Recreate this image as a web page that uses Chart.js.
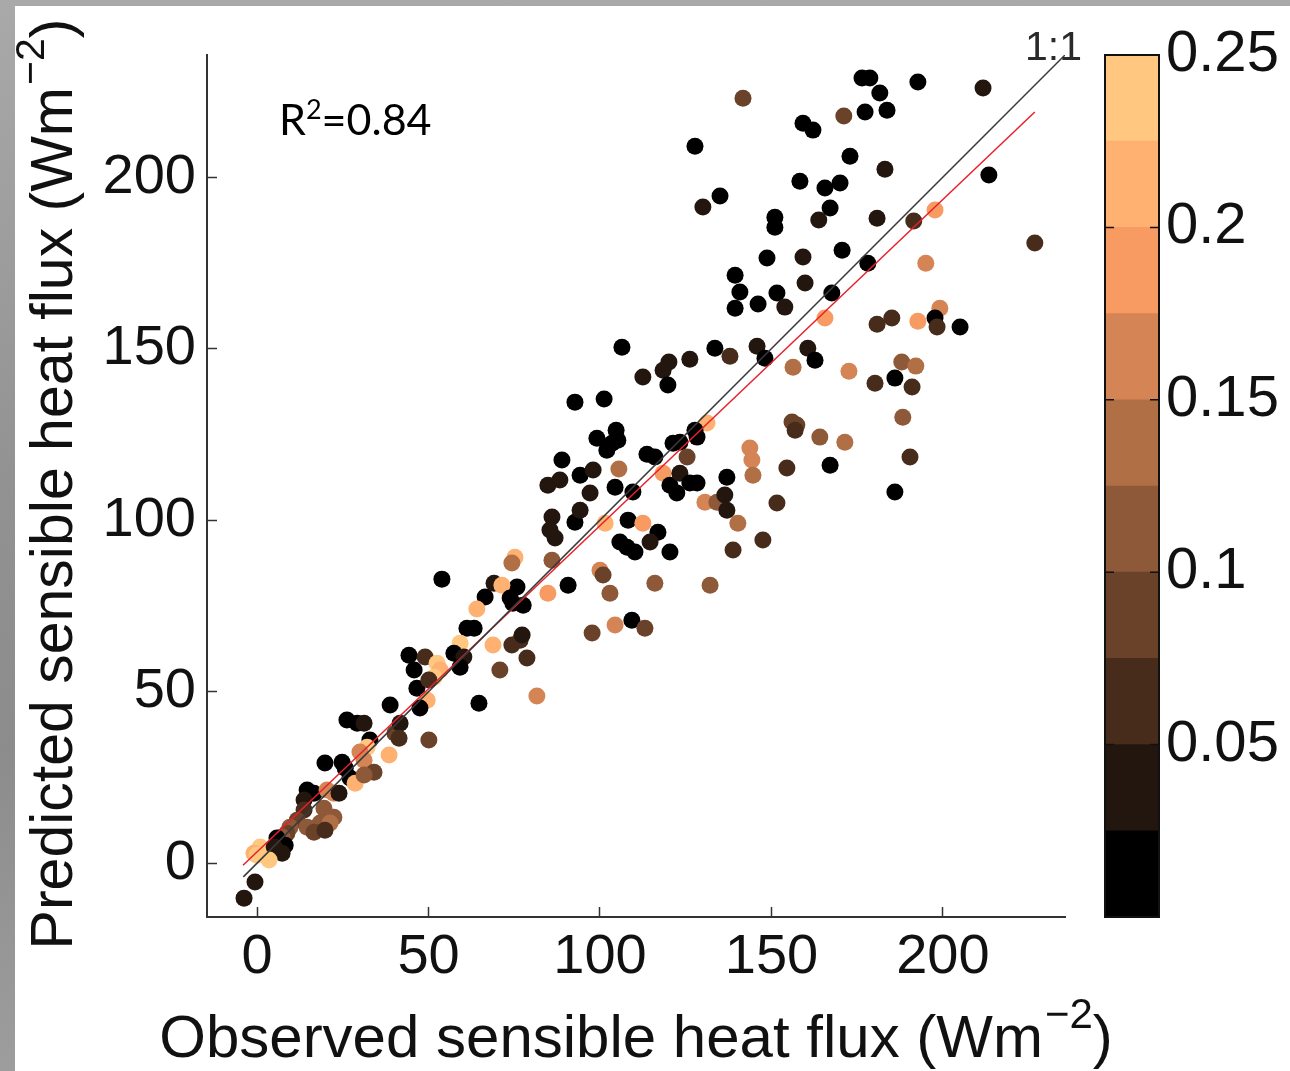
<!DOCTYPE html>
<html>
<head>
<meta charset="utf-8">
<script src="https://cdn.jsdelivr.net/npm/chart.js@4.4.1/dist/chart.umd.min.js"></script>
<style>
  html, body { margin: 0; padding: 0; }
  body {
    width: 1290px; height: 1071px; position: relative; overflow: hidden;
    background: linear-gradient(180deg, #a9a9a9 0%, #929292 45%, #8c8c8c 70%, #9d9d9d 100%);
  }
  #panel { position: absolute; left: 15px; top: 6px; right: 0; bottom: 0; background: #fff; }
  #scatter { position: absolute; left: 0; top: 0; }
  #cbar { position: absolute; left: 1095px; top: 0; }
</style>
</head>
<body>
<div id="panel"></div>
<canvas id="scatter" width="1290" height="1071"></canvas>
<canvas id="cbar" width="195" height="1071"></canvas>
<script>
// observed (x), predicted (y) sensible heat flux in W m-2, and the colour variable
const observed = [
  141.7, 176.4, 178.7, 192.7, 211.7, 181.6, 171.1, 177.3, 183.7, 159.2,
  162.1, 127.7, 172.9, 183.1, 213.4, 158.3, 165.6, 170.0, 135.0, 130.0,
  167.1, 151.0, 151.0, 163.8, 180.8, 191.5, 197.7, 226.8, 170.6, 148.7,
  159.2, 178.1, 195.0, 139.4, 140.8, 159.8, 167.6, 151.6, 153.9, 139.4,
  146.1, 165.6, 180.8, 185.1, 192.7, 199.1, 197.7, 198.3, 205.0, 133.5,
  126.2, 137.9, 145.8, 148.1, 160.6, 162.7, 156.3, 172.6, 120.1, 118.4,
  112.5, 119.8, 188.0, 192.1, 180.2, 186.0, 191.0, 156.0, 157.4, 156.9,
  188.3, 164.1, 171.4, 143.7, 144.3, 144.6, 154.5, 167.1, 190.4, 137.0,
  186.0, 151.6, 131.2, 127.7, 123.3, 106.4, 92.7, 101.2, 99.1, 104.7,
  105.2, 102.0, 103.5, 88.9, 84.8, 88.3, 94.2, 98.0, 105.5, 104.4,
  109.6, 97.1, 113.7, 116.0, 121.3, 128.3, 125.4, 118.4, 120.4, 123.3,
  122.4, 126.2, 128.3, 130.6, 134.1, 136.4, 137.0, 86.0, 85.4, 86.9,
  92.7, 94.2, 101.5, 108.2, 112.5, 116.9, 114.6, 105.8, 107.9, 110.2,
  120.4, 140.2, 147.5, 138.8, 75.2, 74.3, 86.0, 100.0, 100.9, 90.7,
  84.8, 102.9, 116.0, 132.1, 69.1, 75.8, 71.4, 66.5, 74.6, 77.6,
  97.7, 104.4, 109.3, 113.1, 68.8, 74.3, 76.7, 77.3, 78.7, 70.8,
  81.6, 73.8, 53.9, 64.1, 61.2, 63.3, 59.2, 64.7, 44.3, 45.8,
  49.0, 52.5, 53.4, 51.6, 57.4, 60.3, 59.2, 46.6, 50.1, 49.6,
  47.5, 38.8, 26.2, 29.2, 31.2, 32.9, 32.1, 40.2, 41.7, 41.4,
  38.5, 50.1, 30.0, 31.2, 34.1, 19.8, 24.8, 25.7, 27.1, 28.6,
  31.2, 14.6, 16.6, 13.7, 20.4, 22.4, 23.9, 19.5, 22.4, 18.4,
  21.3, 13.7, 11.7, 14.6, 16.6, 19.8, 9.6, 8.7, 7.3, 5.8,
  8.2, 7.3, 0.9, -0.9, 0.0, -0.6, -3.8, 5.0, 3.5
];
const predicted = [
  223.0, 228.9, 228.9, 227.7, 226.0, 224.5, 217.8, 219.0, 219.5, 215.7,
  213.7, 209.0, 206.1, 202.3, 200.6, 198.8, 196.8, 198.3, 194.5, 191.3,
  191.0, 188.3, 185.4, 187.5, 188.0, 187.2, 190.4, 180.8, 178.7, 176.4,
  176.7, 174.9, 174.9, 171.4, 166.5, 169.1, 166.2, 166.2, 162.1, 161.8,
  163.0, 158.9, 157.1, 158.9, 158.0, 161.8, 158.9, 156.3, 156.3, 150.1,
  146.9, 147.8, 150.7, 147.2, 150.1, 146.6, 144.6, 143.4, 146.1, 143.7,
  141.7, 139.4, 146.1, 144.9, 139.9, 141.4, 138.8, 128.6, 127.7, 126.2,
  130.0, 124.2, 122.7, 121.0, 117.5, 113.1, 115.2, 116.0, 118.4, 112.5,
  108.2, 105.0, 128.3, 126.2, 122.7, 150.4, 134.4, 135.3, 123.9, 126.2,
  123.3, 120.4, 122.4, 117.5, 110.2, 111.7, 113.1, 114.6, 114.9, 109.6,
  108.2, 107.9, 119.2, 118.4, 122.4, 124.2, 118.4, 113.7, 110.2, 113.7,
  107.9, 110.8, 110.8, 105.2, 105.2, 107.3, 102.9, 100.9, 97.1, 94.8,
  99.4, 102.9, 99.1, 100.0, 99.1, 96.5, 93.6, 93.6, 92.1, 90.7,
  90.7, 99.1, 94.2, 91.3, 89.2, 87.5, 88.3, 85.4, 84.0, 81.0,
  78.7, 78.7, 81.6, 81.0, 81.6, 80.5, 81.0, 77.6, 75.8, 75.2,
  67.1, 69.4, 70.8, 68.5, 63.6, 63.6, 65.0, 66.5, 59.8, 56.3,
  48.7, 77.3, 82.8, 74.1, 68.5, 68.5, 64.1, 46.6, 60.6, 56.3,
  60.1, 58.3, 56.3, 54.2, 61.2, 60.1, 57.1, 51.0, 53.4, 47.5,
  45.2, 46.1, 41.7, 40.8, 40.8, 35.9, 33.8, 37.9, 40.8, 36.4,
  31.5, 35.9, 32.4, 30.0, 26.5, 29.2, 29.4, 27.7, 24.8, 23.3,
  25.7, 21.3, 20.4, 18.4, 21.3, 20.4, 20.4, 16.0, 13.4, 11.7,
  11.7, 15.5, 12.5, 10.5, 9.0, 9.6, 10.5, 8.7, 7.6, 7.3,
  5.2, 2.9, 4.7, 2.9, 2.3, -5.5, -10.2, 4.7, 0.9
];
const fraction = [
  0.08, 0.01, 0.01, 0.01, 0.04, 0.01, 0.08, 0.01, 0.01, 0.02,
  0.01, 0.01, 0.01, 0.03, 0.01, 0.01, 0.01, 0.01, 0.01, 0.04,
  0.01, 0.01, 0.01, 0.04, 0.03, 0.07, 0.19, 0.06, 0.01, 0.01,
  0.03, 0.01, 0.16, 0.01, 0.01, 0.03, 0.01, 0.01, 0.04, 0.01,
  0.01, 0.18, 0.07, 0.07, 0.19, 0.16, 0.01, 0.05, 0.01, 0.01,
  0.04, 0.05, 0.03, 0.01, 0.03, 0.01, 0.14, 0.15, 0.04, 0.03,
  0.03, 0.01, 0.10, 0.13, 0.06, 0.01, 0.07, 0.09, 0.09, 0.07,
  0.10, 0.10, 0.14, 0.15, 0.15, 0.14, 0.07, 0.01, 0.07, 0.01,
  0.01, 0.07, 0.20, 0.01, 0.01, 0.01, 0.01, 0.01, 0.01, 0.01,
  0.01, 0.01, 0.02, 0.01, 0.03, 0.03, 0.01, 0.03, 0.14, 0.01,
  0.01, 0.03, 0.01, 0.01, 0.01, 0.01, 0.08, 0.19, 0.01, 0.04,
  0.01, 0.02, 0.01, 0.15, 0.12, 0.03, 0.04, 0.03, 0.03, 0.04,
  0.01, 0.03, 0.20, 0.01, 0.19, 0.01, 0.03, 0.01, 0.01, 0.01,
  0.02, 0.13, 0.07, 0.07, 0.22, 0.14, 0.11, 0.17, 0.08, 0.01,
  0.19, 0.12, 0.10, 0.10, 0.04, 0.01, 0.22, 0.01, 0.01, 0.01,
  0.08, 0.16, 0.01, 0.09, 0.20, 0.06, 0.05, 0.04, 0.07, 0.08,
  0.15, 0.01, 0.01, 0.20, 0.01, 0.01, 0.23, 0.01, 0.01, 0.01,
  0.06, 0.23, 0.22, 0.23, 0.01, 0.03, 0.01, 0.01, 0.07, 0.22,
  0.01, 0.01, 0.01, 0.02, 0.03, 0.01, 0.23, 0.08, 0.04, 0.06,
  0.22, 0.08, 0.17, 0.15, 0.08, 0.01, 0.01, 0.01, 0.02, 0.20,
  0.10, 0.01, 0.01, 0.03, 0.15, 0.17, 0.04, 0.11, 0.12, 0.10,
  0.13, 0.05, 0.08, 0.10, 0.09, 0.07, 0.10, 0.09, 0.11, 0.01,
  0.02, 0.03, 0.23, 0.22, 0.24, 0.04, 0.04, 0.03, 0.23
];

const xTicks = [0, 50, 100, 150, 200];
const yTicks = [0, 50, 100, 150, 200];
const cbTicks = [0.05, 0.1, 0.15, 0.2, 0.25];
const cbEdges = [0, 0.025, 0.05, 0.075, 0.1, 0.125, 0.15, 0.175, 0.2, 0.225, 0.25];

// 1:1 line and the fitted regression line (end points)
const oneToOneX = [-4, 235.6];
const oneToOneY = [-4, 235.6];
const fitX = [-4.1, 226.8];
const fitY = [-0.6, 219.0];

const copper = [
  "#000000", "#23160e", "#472c1c", "#6a422a", "#8e5938",
  "#b16f46", "#d58555", "#f89b63", "#ffb171", "#ffc77f",
];

const FONT = '"Liberation Sans", Arial, Helvetica, sans-serif';
Chart.defaults.font.family = FONT;
Chart.defaults.color = "#111";

function bandColor(c) {
  for (let i = 0; i < copper.length; i++) {
    if (c < cbEdges[i + 1]) return copper[i];
  }
  return copper[copper.length - 1];
}

const points = observed.map((x, i) => ({ x, y: predicted[i], c: fraction[i] }));
const pairs = (xs, ys) => xs.map((x, i) => ({ x, y: ys[i] }));

// axis title with a real superscript unit, drawn centred on (cx, cy) baseline
function unitTitle(ctx, text, cx, cy, rot, size) {
  const big = size + "px " + FONT;
  const small = Math.round(size * 0.7) + "px " + FONT;
  ctx.save();
  ctx.translate(cx, cy);
  ctx.rotate(rot);
  ctx.textBaseline = "alphabetic";
  ctx.textAlign = "left";
  ctx.fillStyle = "#111";
  ctx.font = big;
  const w1 = ctx.measureText(text).width;
  const w3 = ctx.measureText(")").width;
  ctx.font = small;
  const w2 = ctx.measureText("\u22122").width + 2;
  let x = -(w1 + w2 + w3) / 2;
  ctx.font = big;
  ctx.fillText(text, x, 0);
  x += w1 + 2;
  ctx.font = small;
  ctx.fillText("\u22122", x, -size * 0.48);
  x += w2 - 2;
  ctx.font = big;
  ctx.fillText(")", x, 0);
  ctx.restore();
}

// axis titles, R² text and the 1:1 label
const labels = {
  id: "labels",
  afterDraw(chart) {
    const { ctx } = chart;
    unitTitle(ctx, "Observed sensible heat flux (Wm", 636, 1057, 0, 60);
    unitTitle(ctx, "Predicted sensible heat flux (Wm", 72, 484, -Math.PI / 2, 59);

    ctx.save();
    ctx.textBaseline = "alphabetic";
    ctx.textAlign = "left";
    ctx.fillStyle = "#000";
    let x = 279;
    const y = 135;
    ctx.font = "43px Lato";
    ctx.fillText("R", x, y);
    x += ctx.measureText("R").width;
    ctx.font = "27px Lato";
    ctx.fillText("2", x, y - 16);
    x += ctx.measureText("2").width;
    ctx.font = "43px Lato";
    ctx.fillText("=0.84", x, y);

    ctx.fillStyle = "#2a2a2a";
    ctx.font = "41px " + FONT;
    ctx.fillText("1:1", 1025, 60);
    ctx.restore();
  },
};

new Chart(document.getElementById("scatter"), {
  type: "scatter",
  data: {
    datasets: [
      {
        type: "line",
        data: pairs(oneToOneX, oneToOneY),
        borderColor: "#3a3a3a",
        borderWidth: 1.5,
        pointRadius: 0,
        fill: false,
        order: 0,
      },
      {
        type: "line",
        data: pairs(fitX, fitY),
        borderColor: "#e8202a",
        borderWidth: 1.5,
        pointRadius: 0,
        fill: false,
        order: 0,
      },
      {
        data: points,
        pointRadius: 8.5,
        borderWidth: 0,
        backgroundColor: (ctx) => (ctx.raw ? bandColor(ctx.raw.c) : "#000"),
        order: 1,
      },
    ],
  },
  options: {
    responsive: false,
    animation: false,
    layout: { padding: { left: 0, top: 55, right: 225, bottom: 0 }, autoPadding: false },
    plugins: { legend: { display: false }, tooltip: { enabled: false } },
    scales: {
      x: {
        type: "linear",
        min: -14.6,
        max: 235.6,
        afterBuildTicks: (s) => { s.ticks = xTicks.map((v) => ({ value: v })); },
        afterFit: (s) => { s.height = 154; },
        grid: { drawOnChartArea: false, tickLength: -10, tickColor: "#333", tickWidth: 1.5 },
        border: { color: "#333", width: 2 },
        ticks: { font: { size: 56 }, padding: 17, maxRotation: 0, color: "#111" },
        title: { display: false },
      },
      y: {
        type: "linear",
        min: -15.7,
        max: 235.6,
        afterBuildTicks: (s) => { s.ticks = yTicks.map((v) => ({ value: v })); },
        afterFit: (s) => { s.width = 207; },
        grid: { drawOnChartArea: false, tickLength: -10, tickColor: "#333", tickWidth: 1.5 },
        border: { color: "#333", width: 2 },
        ticks: { font: { size: 56 }, padding: 21, color: "#111" },
        title: { display: false },
      },
    },
  },
  plugins: [labels],
});

// outline and inner tick marks of the colour bar
const cbFrame = {
  id: "cbFrame",
  afterDatasetsDraw(chart) {
    const { ctx, chartArea: a } = chart;
    const yScale = chart.scales.y;
    ctx.save();
    ctx.strokeStyle = "#111";
    ctx.lineWidth = 2;
    ctx.strokeRect(a.left, a.top, a.right - a.left, a.bottom - a.top);
    ctx.lineWidth = 1.5;
    cbTicks.forEach((v) => {
      const py = yScale.getPixelForValue(v);
      ctx.beginPath();
      ctx.moveTo(a.left, py);
      ctx.lineTo(a.left + 9, py);
      ctx.moveTo(a.right, py);
      ctx.lineTo(a.right - 9, py);
      ctx.stroke();
    });
    ctx.restore();
  },
};

new Chart(document.getElementById("cbar"), {
  type: "bar",
  data: {
    labels: [""],
    datasets: copper.map((col, i) => ({
      data: [[cbEdges[i], cbEdges[i + 1]]],
      backgroundColor: col,
      borderWidth: 0,
      grouped: false,
      barPercentage: 1,
      categoryPercentage: 1,
    })),
  },
  options: {
    responsive: false,
    animation: false,
    layout: { padding: { left: 10, top: 55, right: 0, bottom: 154 }, autoPadding: false },
    plugins: { legend: { display: false }, tooltip: { enabled: false } },
    scales: {
      x: { display: false },
      y: {
        position: "right",
        min: 0,
        max: 0.25,
        afterBuildTicks: (s) => { s.ticks = cbTicks.map((v) => ({ value: v })); },
        afterFit: (s) => { s.width = 131; },
        grid: { display: false, drawTicks: false },
        border: { display: false },
        ticks: { font: { size: 58 }, padding: 7, color: "#111", callback: (v) => String(v) },
      },
    },
  },
  plugins: [cbFrame],
});
</script>
</body>
</html>
